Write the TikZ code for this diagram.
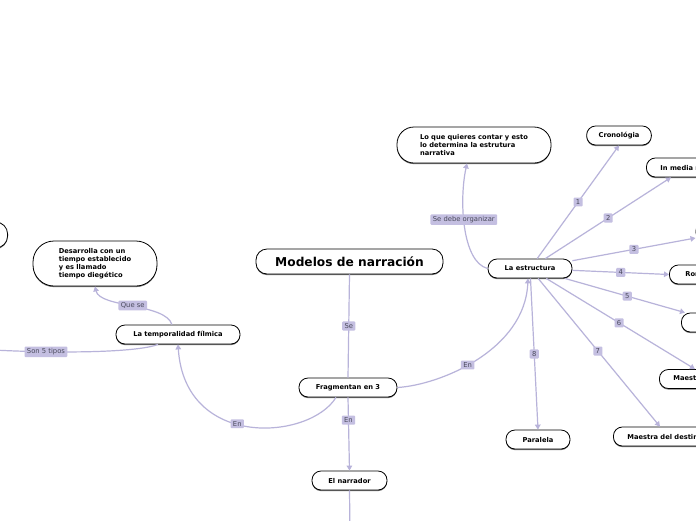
\documentclass[tikz,border=0pt]{standalone}
\usepackage{fontspec}
\setmainfont{DejaVu Sans}
\usetikzlibrary{shadows,arrows.meta}

\definecolor{linkline}{HTML}{B8B3DA}
\definecolor{linkfill}{HTML}{C4BFE1}
\definecolor{linktext}{HTML}{4A4A5C}

\tikzset{
  topic/.style={draw=black,fill=white,line width=0.8pt,rounded corners=9pt,
    minimum height=19pt,inner xsep=12pt,font=\fontsize{6.7}{7.9}\selectfont\bfseries,
    drop shadow={shadow xshift=0pt,shadow yshift=-1.1pt,fill=black!55,opacity=1}},
  link/.style={draw=linkline,line width=1.2pt},
  linkto/.style={link,-{Triangle[width=5.5pt,length=5pt]}},
  lbl/.style={fill=linkfill,text=linktext,font=\fontsize{6.8}{8}\selectfont,
    inner xsep=2.4pt,inner ysep=2pt,rounded corners=1pt}
}

\begin{document}
\begin{tikzpicture}[x=1pt,y=-1pt]
  \useasboundingbox (0,0) rectangle (696,520);
  \fill[white] (0,0) rectangle (696,520);
  \clip (0,0) rectangle (696,520);

  % central topics
  \node[topic,minimum width=187pt,minimum height=25pt,rounded corners=11pt,
    font=\fontsize{12.2}{14}\selectfont\bfseries] (modelos) at (349.5,261.5) {Modelos de narración};
  \node[topic,minimum width=98pt] (frag) at (348,387.5) {Fragmentan en 3};
  \node[topic,minimum width=75pt] (narr) at (349.5,480.5) {El narrador};
  \node[topic,minimum width=124pt] (temporal) at (178,334.5) {La temporalidad fílmica};
  \node[topic,minimum width=124pt,minimum height=45pt,rounded corners=21pt,align=left] (diege) at (95,263.5)
    {Desarrolla con un\\tiempo establecido\\y es llamado\\tiempo diegético};
  \node[topic,minimum width=84pt] (estr) at (530,268.5) {La estructura};
  \node[topic,minimum width=154pt,minimum height=36pt,rounded corners=17pt,align=left] (contar) at (474,145)
    {Lo que quieres contar y esto\\lo determina la estrutura\\narrativa};

  % structure types
  \node[topic,minimum width=58pt] (crono) at (619,135.5) {Cronológia};
  \node[topic,anchor=west,inner xsep=14pt] (media) at (646,167.5) {In media res};
  \node[topic,anchor=west,minimum width=60pt] (tipo3) at (695.5,231.5) {};
  \node[topic,anchor=west,inner xsep=16pt] (rompe) at (669,274.5) {Rompecabezas};
  \node[topic,anchor=west,minimum width=60pt] (tipo5) at (681,322.5) {};
  \node[topic,anchor=west,inner xsep=14pt] (maest) at (659,379) {Maestra del tiempo};
  \node[topic,anchor=west,inner xsep=14pt] (destino) at (613,436.5) {Maestra del destino};
  \node[topic,minimum width=64pt] (paral) at (538,439.5) {Paralela};

  % left side
  \node[topic,anchor=east,minimum width=60pt,minimum height=26pt,rounded corners=12pt] (izq) at (8,235) {};
  \coordinate (tipos) at (-40,348);
  \coordinate (narrout) at (350,535);

  \draw[link] (modelos.south) -- node[lbl] {Se} (frag.north);
  \draw[linkto] (frag.south) -- node[lbl,pos=0.31] {En} (narr.north);
  \draw[link] (narr.south) -- (narrout);
  \draw[linkto] ([xshift=-12pt]frag.south) .. controls (310,440) and (185,450) ..
    node[lbl,pos=0.56] {En} (temporal.south);
  \draw[linkto] (frag.east) .. controls (440,385) and (525,350) ..
    node[lbl,pos=0.44] {En} ([xshift=-2pt]estr.south);
  \draw[linkto] ([xshift=-6pt]temporal.north) .. controls (165,303) and (100,308) ..
    node[lbl,pos=0.5] {Que se} (diege.south);
  \draw[link] ([xshift=-20pt]temporal.south) .. controls (140,352) and (60,355) ..
    node[lbl,pos=0.69] {Son 5 tipos} (tipos);
  \draw[linkto] (estr.west) .. controls (462,262) and (459,200) ..
    node[lbl,pos=0.56] {Se debe organizar} ([xshift=-7pt]contar.south);

  \draw[linkto] (estr) -- node[lbl] {1} (crono.south);
  \draw[linkto] (estr) -- node[lbl] {2} ([xshift=25pt]media.south west);
  \draw[linkto] (estr) -- node[lbl] {3} ([yshift=-6.5pt]tipo3.west);
  \draw[linkto] (estr) -- node[lbl] {4} (rompe.west);
  \draw[linkto] (estr) -- node[lbl,pos=0.52] {5} ([xshift=4pt]tipo5.north west);
  \draw[linkto] (estr) -- node[lbl,pos=0.49] {6} ([xshift=36pt]maest.north west);
  \draw[linkto] (estr) -- node[lbl,pos=0.49] {7} ([xshift=47pt]destino.north west);
  \draw[linkto] (estr) -- node[lbl] {8} (paral.north);
\end{tikzpicture}
\end{document}
